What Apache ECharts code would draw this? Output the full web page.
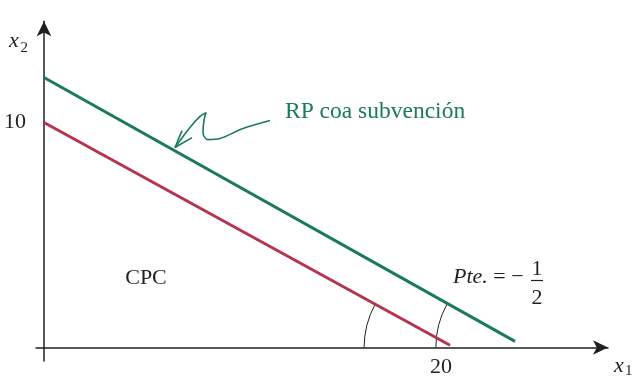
<!DOCTYPE html>
<html>
<head>
<meta charset="utf-8">
<script src="https://cdn.jsdelivr.net/npm/echarts@6/dist/echarts.min.js"></script>
<style>html,body{margin:0;padding:0;background:#fff}#c{width:635px;height:377px}</style>
</head>
<body>
<div id="c"></div>
<script>
// ---- data ----
const xTickLabels = [20];
const yTickLabels = [10];
const redLine = [[0, 10], [20.3, 0.1]];          // CPC budget line
const greenLine = [[0, 12], [23.55, 0.27]];      // RP coa subvención
const annotationCurve = [[11.3, 10.09], [9.95, 9.73], [8.8, 9.29], [8.2, 9.24], [7.95, 9.56], [8.0, 10.09], [8.1, 10.44], [7.8, 10.27], [7.3, 9.78], [6.55, 8.89]];
const annotationHead = [[6.9, 9.64], [6.55, 8.89], [7.4, 9.33]];
const labels = { x1: 'x', x2: 'x', cpc: 'CPC', rp: 'RP coa subvención', pte: 'Pte.' };

const RED = '#b5344e', GREEN = '#1b7a5d', INK = '#231f20';
const FONT = '"Liberation Serif", "DejaVu Serif", serif';

const chart = echarts.init(document.getElementById('c'), null, { renderer: 'canvas' });
const axisCommon = {
  type: 'value',
  splitLine: { show: false },
  axisTick: { show: false },
  axisLine: { show: true, onZero: true, symbol: ['none', 'arrow'], symbolSize: [11, 15], lineStyle: { color: INK, width: 1.5 } },
  axisLabel: { color: INK, fontFamily: FONT, fontSize: 22 }
};
chart.setOption({
  animation: false,
  backgroundColor: '#fff',
  grid: { left: 36, right: 27, top: 21.25, bottom: 16, containLabel: false, outerBoundsMode: 'none' },
  xAxis: Object.assign({}, axisCommon, { min: -0.4, max: 28.2, axisLabel: { show: false } }),
  yAxis: Object.assign({}, axisCommon, { min: -0.6, max: 14.5,
    axisLabel: Object.assign({}, axisCommon.axisLabel, { customValues: yTickLabels, margin: 10 }) }),
  series: [
    { type: 'line', data: redLine, symbol: 'none', lineStyle: { color: RED, width: 3 }, silent: true },
    { type: 'line', data: greenLine, symbol: 'none', lineStyle: { color: GREEN, width: 3 }, silent: true },
    { type: 'line', data: annotationCurve, symbol: 'none', smooth: 0.35, lineStyle: { color: GREEN, width: 1.6 }, silent: true },
    { type: 'line', data: annotationHead, symbol: 'none', lineStyle: { color: GREEN, width: 1.6 }, silent: true }
  ]
});

function px(p) { return chart.convertToPixel({ gridIndex: 0 }, p); }
function arcFor(line, r) {
  const a = px(line[0]), b = px(line[1]);
  const axisY = px([0, 0])[1];
  const t = (axisY - a[1]) / (b[1] - a[1]);
  const cx = a[0] + t * (b[0] - a[0]);
  let ang = Math.atan2(a[1] - b[1], a[0] - b[0]);
  if (ang < Math.PI) ang += 2 * Math.PI;
  return { type: 'arc', shape: { cx: cx, cy: axisY, r: r, startAngle: Math.PI, endAngle: ang, clockwise: true },
    style: { stroke: INK, lineWidth: 1, fill: null }, silent: true };
}
const T = (x, y, text, extra) => Object.assign({ type: 'text', x: x, y: y, silent: true,
  style: Object.assign({ text: text, fill: INK, font: '22px ' + FONT, verticalAlign: 'middle', align: 'left' }, extra || {}) });

const xLabelEls = xTickLabels.map(v => { const p = px([v, 0]); return T(p[0] - 3, p[1] + 20, String(v), { align: 'center' }); });

chart.setOption({
  graphic: [
    arcFor(redLine, 90),
    arcFor(greenLine, 90),
    ...xLabelEls,
    T(9, 41, labels.x2, { font: 'italic 22px ' + FONT }),
    T(20.5, 48.5, '2', { font: '15px ' + FONT }),
    T(614, 366, labels.x1, { font: 'italic 22px ' + FONT }),
    T(625, 371, '1', { font: '15px ' + FONT }),
    T(146, 278, labels.cpc, { align: 'center' }),
    T(285, 112, labels.rp, { fill: GREEN, font: '23.5px ' + FONT }),
    { type: 'text', x: 453, y: 277.5, silent: true, style: {
      text: '{i|' + labels.pte + '}{n| = −}', verticalAlign: 'middle', align: 'left', fill: INK,
      rich: { i: { font: 'italic 22px ' + FONT, fill: INK }, n: { font: '22px ' + FONT, fill: INK } } } },
    T(537, 269, '1', { align: 'center' }),
    { type: 'line', shape: { x1: 531, y1: 280.5, x2: 543, y2: 280.5 }, style: { stroke: INK, lineWidth: 1.2 }, silent: true },
    T(537, 298, '2', { align: 'center' })
  ]
});
</script>
</body>
</html>
